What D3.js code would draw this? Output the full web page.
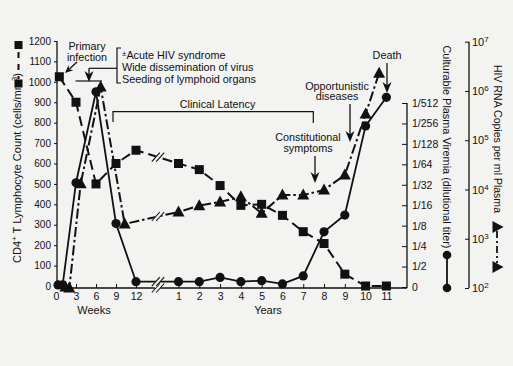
<!DOCTYPE html>
<html><head><meta charset="utf-8">
<script src="https://cdn.jsdelivr.net/npm/d3@7"></script>
<style>
body{margin:0;background:#f3f3f1;}
svg{display:block;}
text{font-family:"Liberation Sans",Arial,Helvetica,sans-serif;fill:#111;}
</style>
</head><body><svg id="c" width="513" height="366"></svg>
<script>
// ---------- DATA ----------
const weekTicks = [0, 3, 6, 9, 12];
const yearTicks = [1, 2, 3, 4, 5, 6, 7, 8, 9, 10, 11];
const cd4Ticks = [0, 100, 200, 300, 400, 500, 600, 700, 800, 900, 1000, 1100, 1200];
const viremiaTickLabels = ["0", "1/2", "1/4", "1/8", "1/16", "1/32", "1/64", "1/128", "1/256", "1/512"];
const rnaTicks = [1e2, 1e3, 1e4, 1e5, 1e6, 1e7];

// CD4+ T lymphocyte count (squares, dashed)
const cd4WeekT = [0.5, 3, 6, 9, 12];
const cd4WeekV = [1025, 900, 500, 600, 665];
const cd4YearT = [1, 2, 3, 4, 5, 6, 7, 8, 9, 10, 11];
const cd4YearV = [600, 570, 492, 395, 400, 346, 266, 208, 58, 0, 0];

// Culturable plasma viremia, dilution level (0 = 0, 1 = 1/2 ... 9 = 1/512) (circles, solid)
const virWeekT = [0.3, 1, 3, 6, 9, 12];
const virWeekV = [0.1, 0.1, 5.1, 9.55, 3.1, 0.26];
const virYearT = [1, 2, 3, 4, 5, 6, 7, 8, 9, 10, 11];
const virYearV = [0.26, 0.26, 0.47, 0.26, 0.31, 0.15, 0.54, 2.7, 3.52, 7.88, 9.28];

// HIV RNA copies per ml plasma (triangles, dash-dot)
const rnaWeekT = [1.4, 2, 3.7, 6.7, 10.3];
const rnaWeekV = [105, 100, 13000, 1200000, 2000];
const rnaYearT = [1, 2, 3, 4, 5, 6, 7, 8, 9, 10, 10.65];
const rnaYearV = [3500, 4700, 5600, 7100, 3300, 7700, 7700, 9800, 19600, 340000, 2300000];

// ---------- SCALES ----------
const svg = d3.select("#c");
const BG = "#f3f3f1";
const TICK_FS = "10.5px";
const xW = d3.scaleLinear().domain([0, 12]).range([56, 136]);
const xY = d3.scaleLinear().domain([1, 11]).range([178.5, 386.4]);
const yCD4 = d3.scaleLinear().domain([0, 1200]).range([286, 41]);
const yVir = d3.scaleLinear().domain([0, 9]).range([287, 103]);
const yRNA = d3.scaleLog().domain([1e2, 1e7]).range([288, 41.7]);
const axisY = 288, xEnd = 407, breakX = 158;

// ---------- AXES ----------
svg.append("line").attr("x1", 56).attr("x2", xEnd).attr("y1", axisY).attr("y2", axisY)
  .attr("stroke", "#111").attr("stroke-width", 1.3);
const gW = svg.append("g").attr("transform", `translate(0,${axisY})`)
  .call(d3.axisBottom(xW).tickValues(weekTicks).tickSize(-4).tickPadding(5).tickFormat(d3.format("d")));
const gY = svg.append("g").attr("transform", `translate(0,${axisY})`)
  .call(d3.axisBottom(xY).tickValues(yearTicks).tickSize(-4).tickPadding(5).tickFormat(d3.format("d")));
[gW, gY].forEach(g => {
  g.select(".domain").remove();
  g.selectAll("text").attr("font-size", TICK_FS).attr("fill", "#111");
  g.selectAll("line").attr("stroke", "#111");
});
function breakMark(x, y) {
  svg.append("line").attr("x1", x - 4).attr("y1", y + 5).attr("x2", x + 4).attr("y2", y - 5)
    .attr("stroke", BG).attr("stroke-width", 4);
  [-2.2, 2.2].forEach(o => svg.append("line")
    .attr("x1", x + o - 4).attr("y1", y + 4.5).attr("x2", x + o + 4).attr("y2", y - 4.5)
    .attr("stroke", "#111").attr("stroke-width", 1.1));
}
breakMark(breakX, axisY);

// left
svg.append("line").attr("x1", 57).attr("x2", 57).attr("y1", 41).attr("y2", axisY)
  .attr("stroke", "#111").attr("stroke-width", 1.3);
const gL = svg.append("g").attr("transform", "translate(57,0)")
  .call(d3.axisLeft(yCD4).tickValues(cd4Ticks).tickSize(3).tickPadding(3).tickFormat(d3.format("d")));
gL.select(".domain").remove();
gL.selectAll("text").attr("font-size", "10px").attr("fill", "#111");
gL.selectAll("line").attr("stroke", "#111");

// viremia axis
svg.append("line").attr("x1", xEnd).attr("x2", xEnd).attr("y1", yVir(9)).attr("y2", axisY)
  .attr("stroke", "#111").attr("stroke-width", 1.3);
const gV = svg.append("g").attr("transform", `translate(${xEnd},0)`)
  .call(d3.axisRight(yVir).tickValues(d3.range(10)).tickFormat(i => viremiaTickLabels[i]).tickSize(-5).tickPadding(5));
gV.select(".domain").remove();
gV.selectAll("text").attr("font-size", TICK_FS).attr("fill", "#111");
gV.selectAll("line").attr("stroke", "#111");

// RNA axis
const rnaX = 469;
svg.append("line").attr("x1", rnaX).attr("x2", rnaX).attr("y1", yRNA(1e7)).attr("y2", yRNA(1e2))
  .attr("stroke", "#111").attr("stroke-width", 1.3);
const gR = svg.append("g").attr("transform", `translate(${rnaX},0)`)
  .call(d3.axisRight(yRNA).tickValues(rnaTicks).tickSize(-4).tickPadding(3).tickFormat(""));
gR.select(".domain").remove();
gR.selectAll("line").attr("stroke", "#111");
gR.selectAll(".tick text").each(function (d) {
  const t = d3.select(this).attr("font-size", "11px").attr("fill", "#111");
  t.append("tspan").text("10");
  t.append("tspan").attr("font-size", "8px").attr("dy", "-0.5em").text(Math.round(Math.log10(d)));
});

// ---------- SERIES ----------
function pts(wt, wv, yt, yv, ys) {
  return wt.map((t, i) => [xW(t), ys(wv[i])]).concat(yt.map((t, i) => [xY(t), ys(yv[i])]));
}
const cd4Pts = pts(cd4WeekT, cd4WeekV, cd4YearT, cd4YearV, yCD4);
const virPts = pts(virWeekT, virWeekV, virYearT, virYearV, yVir);
const rnaPts = pts(rnaWeekT, rnaWeekV, rnaYearT, rnaYearV, yRNA);
const line = d3.line();

function drawSeries(p, nWeek, dash, width) {
  svg.append("path").attr("d", line(p)).attr("fill", "none").attr("stroke", "#111")
    .attr("stroke-width", width).attr("stroke-dasharray", dash);
  const a = p[nWeek - 1], b = p[nWeek];
  const f = (breakX - a[0]) / (b[0] - a[0]);
  breakMark(breakX, a[1] + f * (b[1] - a[1]));
}
drawSeries(cd4Pts, cd4WeekT.length, "10,5", 2);
drawSeries(rnaPts, rnaWeekT.length, "10,3,2.5,3", 2);
drawSeries(virPts, virWeekT.length, null, 1.8);

const sq = 9;
svg.selectAll(".sq").data(cd4Pts).join("rect").attr("x", d => d[0] - sq / 2).attr("y", d => d[1] - sq / 2)
  .attr("width", sq).attr("height", sq).attr("fill", "#111");
const tri = "M0,-6.5L6,4.5L-6,4.5Z";
svg.selectAll(".tri").data(rnaPts).join("path").attr("d", tri)
  .attr("transform", d => `translate(${d[0]},${d[1]})`).attr("fill", "#111");
svg.selectAll(".cir").data(virPts).join("circle").attr("cx", d => d[0]).attr("cy", d => d[1])
  .attr("r", 4.6).attr("fill", "#111");

// ---------- LEGEND SYMBOLS ----------
svg.append("line").attr("x1", 18.5).attr("x2", 18.5).attr("y1", 50).attr("y2", 79)
  .attr("stroke", "#111").attr("stroke-width", 2).attr("stroke-dasharray", "6,6").attr("stroke-dashoffset", -2);
[45, 83.5].forEach(y => svg.append("rect").attr("x", 14.5).attr("y", y - 4).attr("width", 8).attr("height", 8).attr("fill", "#111"));

svg.append("line").attr("x1", 447).attr("x2", 447).attr("y1", 255).attr("y2", 288)
  .attr("stroke", "#111").attr("stroke-width", 1.8);
[255, 288].forEach(y => svg.append("circle").attr("cx", 447).attr("cy", y).attr("r", 4.3).attr("fill", "#111"));

svg.append("line").attr("x1", 497).attr("x2", 497).attr("y1", 231).attr("y2", 263)
  .attr("stroke", "#111").attr("stroke-width", 1.8).attr("stroke-dasharray", "7,3,2,3");
[227, 267].forEach(y => svg.append("path").attr("d", tri)
  .attr("transform", `translate(497,${y}) rotate(90)`).attr("fill", "#111"));

// ---------- TITLES ----------
const lt = svg.append("text").attr("transform", "translate(21,168) rotate(-90)")
  .attr("text-anchor", "middle").attr("font-size", "11px")
  .attr("textLength", 190).attr("lengthAdjust", "spacingAndGlyphs");
lt.append("tspan").text("CD4");
lt.append("tspan").attr("baseline-shift", "super").attr("font-size", "7.5px").text("+");
lt.append("tspan").text(" T Lymphocyte Count (cells/mm");
lt.append("tspan").attr("baseline-shift", "super").attr("font-size", "7.5px").text("3");
lt.append("tspan").text(")");

svg.append("text").attr("transform", "translate(443,147) rotate(90)").attr("text-anchor", "middle")
  .attr("font-size", "11px").attr("textLength", 203).attr("lengthAdjust", "spacingAndGlyphs")
  .text("Culturable Plasma Viremia (dilutional titer)");
svg.append("text").attr("transform", "translate(494,139) rotate(90)").attr("text-anchor", "middle")
  .attr("font-size", "11px").attr("textLength", 148).attr("lengthAdjust", "spacingAndGlyphs")
  .text("HIV RNA Copies per ml Plasma");

svg.append("text").attr("x", 94).attr("y", 313.5).attr("text-anchor", "middle").attr("font-size", "11px").text("Weeks");
svg.append("text").attr("x", 268).attr("y", 314).attr("text-anchor", "middle").attr("font-size", "11px").text("Years");

// ---------- ANNOTATIONS ----------
const ANN_FS = "10.8px";
function txt(x, y, s, anchor) {
  return svg.append("text").attr("x", x).attr("y", y).attr("text-anchor", anchor || "middle")
    .attr("font-size", ANN_FS).text(s);
}
function arrow(x1, y1, x2, y2, hl, hw) {
  hl = hl || 11; hw = hw || 4.5;
  const dx = x2 - x1, dy = y2 - y1, L = Math.hypot(dx, dy), ux = dx / L, uy = dy / L;
  const bx = x2 - ux * hl, by = y2 - uy * hl, nx = -uy, ny = ux;
  const mx = x2 - ux * hl * 0.7, my = y2 - uy * hl * 0.7;
  svg.append("line").attr("x1", x1).attr("y1", y1).attr("x2", mx).attr("y2", my)
    .attr("stroke", "#111").attr("stroke-width", 1.3);
  svg.append("path").attr("d", `M${x2},${y2}L${bx + nx * hw},${by + ny * hw}L${mx},${my}L${bx - nx * hw},${by - ny * hw}Z`)
    .attr("fill", "#111");
}
txt(87, 50, "Primary");
txt(87, 61, "infection");
arrow(77, 62, 65, 73, 8, 3.5);

const ac = svg.append("text").attr("x", 122).attr("y", 59).attr("font-size", ANN_FS);
ac.append("tspan").attr("font-size", "8px").attr("dy", "-3").text("±");
ac.append("tspan").attr("dy", "3").text("Acute HIV syndrome");
txt(122, 71, "Wide dissemination of virus", "start");
txt(122, 83, "Seeding of lymphoid organs", "start");
svg.append("path").attr("d", "M121,48H117V83H121").attr("fill", "none").attr("stroke", "#111").attr("stroke-width", 1.2);
svg.append("path").attr("d", "M117,68.3H89").attr("fill", "none").attr("stroke", "#111").attr("stroke-width", 1.2);
arrow(89, 68.3, 89, 82, 11, 4.5);
svg.append("line").attr("x1", 75.5).attr("x2", 102).attr("y1", 81).attr("y2", 81).attr("stroke", "#111").attr("stroke-width", 1.2);

txt(217.5, 108, "Clinical Latency");
svg.append("path").attr("d", "M113,122V111.7H313.3V123").attr("fill", "none").attr("stroke", "#111").attr("stroke-width", 1.2);

txt(308, 141, "Constitutional");
txt(308, 152, "symptoms");
arrow(315, 156, 315, 183);

txt(337, 89.5, "Opportunistic");
txt(337, 100, "diseases");
arrow(350, 104, 350, 142);

txt(387, 59, "Death");
arrow(387, 63, 387, 93);
</script>
</body></html>
